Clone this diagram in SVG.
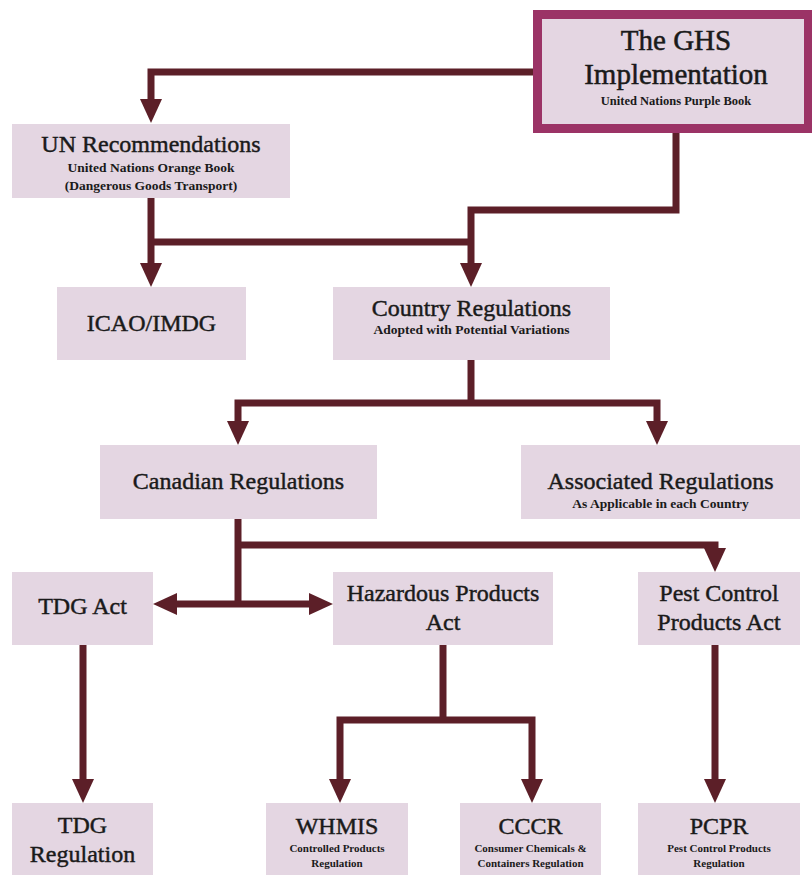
<svg xmlns="http://www.w3.org/2000/svg" width="812" height="875" viewBox="0 0 812 875">
<defs>
<style>
.box{fill:#E4D6E2;}
.ghs{fill:#E4D6E2;stroke:#9B3366;stroke-width:9;}
.t{font-family:"Liberation Serif","DejaVu Serif",serif;fill:#1a1a1a;text-anchor:middle;}
.h{font-size:24px;font-weight:normal;stroke:#1a1a1a;stroke-width:0.45;}
.hb{font-size:29px;font-weight:normal;stroke:#1a1a1a;stroke-width:0.5;}
.s{font-size:13.5px;font-weight:bold;}
.xs{font-size:11px;font-weight:bold;}
.c{fill:none;stroke:#5C1F28;stroke-width:7;stroke-linejoin:miter;}
.a{marker-end:url(#arr);}
</style>
<marker id="arr" markerUnits="userSpaceOnUse" markerWidth="24" markerHeight="22" viewBox="0 0 24 22" refX="12" refY="11" orient="auto">
<path d="M0,0 L24,11 L0,22 Z" fill="#5C1F28"/>
</marker>
</defs>
<g id="connectors">
<path class="c a" d="M533,72 H151 V111"/>
<path class="c a" d="M676,133 V210 H471 V275"/>
<path class="c a" d="M151,198 V275"/>
<path class="c" d="M151,242 H471"/>
<path class="c" d="M471,360 V403"/>
<path class="c a" d="M471,403 H238 V433"/>
<path class="c a" d="M471,403 H657 V433"/>
<path class="c" d="M238,519 V604"/>
<path class="c a" d="M238,545 H715 V560"/>
<path class="c a" d="M238,604 H165"/>
<path class="c a" d="M238,604 H321"/>
<path class="c a" d="M83,645 V791"/>
<path class="c" d="M443,645 V720"/>
<path class="c a" d="M443,720 H340 V791"/>
<path class="c a" d="M443,720 H532 V791"/>
<path class="c a" d="M715,645 V791"/>
</g>
<g id="ghs">
<rect class="ghs" x="537.5" y="14.5" width="271" height="114"/>
<text class="t hb" x="676" y="50">The GHS</text>
<text class="t hb" x="676" y="84">Implementation</text>
<text class="t s" x="676" y="105" style="font-size:12.5px">United Nations Purple Book</text>
</g>
<g id="un">
<rect class="box" x="12" y="124" width="278" height="74"/>
<text class="t h" x="151" y="152">UN Recommendations</text>
<text class="t s" x="151" y="172">United Nations Orange Book</text>
<text class="t s" x="151" y="190">(Dangerous Goods Transport)</text>
</g>
<g id="icao">
<rect class="box" x="57" y="287" width="189" height="73"/>
<text class="t h" x="151.5" y="331">ICAO/IMDG</text>
</g>
<g id="country">
<rect class="box" x="333" y="287" width="277" height="73"/>
<text class="t h" x="471.5" y="316">Country Regulations</text>
<text class="t s" x="471.5" y="334">Adopted with Potential Variations</text>
</g>
<g id="canadian">
<rect class="box" x="100" y="445" width="277" height="74"/>
<text class="t h" x="238.5" y="489">Canadian Regulations</text>
</g>
<g id="associated">
<rect class="box" x="521" y="445" width="279" height="74"/>
<text class="t h" x="660.5" y="489">Associated Regulations</text>
<text class="t s" x="660.5" y="508">As Applicable in each Country</text>
</g>
<g id="tdgact">
<rect class="box" x="12" y="572" width="141" height="73"/>
<text class="t h" x="82.5" y="614">TDG Act</text>
</g>
<g id="hpa">
<rect class="box" x="333" y="572" width="220" height="73"/>
<text class="t h" x="443" y="601">Hazardous Products</text>
<text class="t h" x="443" y="630">Act</text>
</g>
<g id="pcpa">
<rect class="box" x="638" y="572" width="162" height="73"/>
<text class="t h" x="719" y="601">Pest Control</text>
<text class="t h" x="719" y="630">Products Act</text>
</g>
<g id="tdgreg">
<rect class="box" x="12" y="803" width="141" height="72"/>
<text class="t h" x="82.5" y="833">TDG</text>
<text class="t h" x="82.5" y="862">Regulation</text>
</g>
<g id="whmis">
<rect class="box" x="266" y="803" width="142" height="72"/>
<text class="t h" x="337" y="834">WHMIS</text>
<text class="t xs" x="337" y="852">Controlled Products</text>
<text class="t xs" x="337" y="867">Regulation</text>
</g>
<g id="cccr">
<rect class="box" x="460" y="803" width="141" height="72"/>
<text class="t h" x="530.5" y="834">CCCR</text>
<text class="t xs" x="530.5" y="852">Consumer Chemicals &amp;</text>
<text class="t xs" x="530.5" y="867">Containers Regulation</text>
</g>
<g id="pcpr">
<rect class="box" x="638" y="803" width="162" height="72"/>
<text class="t h" x="719" y="834">PCPR</text>
<text class="t xs" x="719" y="852">Pest Control Products</text>
<text class="t xs" x="719" y="867">Regulation</text>
</g>
</svg>
